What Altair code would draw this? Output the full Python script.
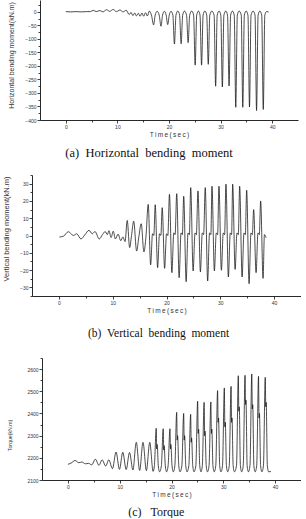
import altair as alt
import pandas as pd

# ---------------- data ----------------
X_DOMAIN = [-5, 45]
X_TICKS = [0, 5, 10, 15, 20, 25, 30, 35, 40]

# (a) Horizontal bending moment: (time s, kN.m)
HBM = [
    (0.0, 1), (1.0, 0), (2.0, 1), (3.0, 0), (4.0, 1), (4.8, 1),
    (5.3, 6), (5.9, 1), (6.6, 5), (7.2, 0), (7.9, 8), (8.5, 2), (9.2, 9), (9.8, 1),
    (10.5, 7), (11.1, 0), (11.7, 6),
    (12.3, -10), (12.65, -2), (13.0, -14), (13.35, -4), (13.7, -15), (14.05, -5),
    (14.4, -16), (14.75, -4), (15.1, -16), (15.45, -3), (15.8, -15), (16.2, 3), (16.6, -12),
    (17.02, -48), (17.32, -12), (17.7, 2), (18.1, -12),
    (18.45, -53), (18.75, -12), (19.1, 2), (19.45, -12),
    (19.75, -47), (20.05, -12), (20.4, 2), (20.75, -12),
    (21.05, -119), (21.35, -12), (21.7, 3), (22.05, -12),
    (22.35, -118), (22.65, -12), (23.0, 3), (23.4, -12),
    (23.71, -114), (24.01, -12), (24.4, 3), (24.77, -12),
    (25.07, -197), (25.37, -12), (25.7, 3), (26.01, -12),
    (26.31, -197), (26.61, -12), (26.95, 3), (27.31, -12),
    (27.61, -194), (27.91, -12), (28.3, 3), (28.74, -12),
    (29.04, -275), (29.34, -12), (29.7, 3), (30.04, -12),
    (30.34, -278), (30.64, -12), (31.0, 3), (31.34, -12),
    (31.64, -274), (31.94, -12), (32.3, 3), (32.64, -12),
    (32.94, -353), (33.24, -12), (33.6, 3), (34.0, -12),
    (34.30, -353), (34.6, -12), (34.95, 3), (35.3, -12),
    (35.60, -352), (35.9, -12), (36.3, 3), (36.67, -12),
    (36.97, -365), (37.27, -12), (37.6, 3), (37.97, -12),
    (38.27, -361), (38.57, -12), (38.9, 1), (39.3, 0),
]

# (b) Vertical bending moment: (time s, kN.m)
VBM = [
    (0.1, -0.9), (0.9, -0.3), (1.75, 2.2), (2.7, 0), (3.3, 1), (4.1, -2), (4.8, 0.3),
    (5.6, 3), (6.2, 1), (6.7, 2.3), (7.5, -2), (8.1, 0.5), (8.6, 2.3), (9.0, 0.5),
    (9.3, 2.8), (9.7, -1.2), (10.1, 2.5), (10.5, -2), (11.0, 0.8), (11.5, -3),
    (11.9, -0.8), (12.3, -3.5),
    (12.7, 8.7), (13.15, -7), (13.5, 0), (13.9, 8.3), (14.45, -9), (14.85, -1),
    (15.3, 6.8), (15.8, -9.5), (16.2, 0),
    (16.6, 18.0), (17.05, -17.0), (17.4, 1), (17.65, 0),
    (17.9, 17.8), (18.35, -18.6), (18.7, 1), (18.95, 0),
    (19.2, 16.1), (19.65, -19.0), (20.0, 1), (20.25, 0),
    (20.55, 23.8), (21.0, -21.5), (21.35, 1.5), (21.6, 0.5),
    (21.9, 24.2), (22.35, -24.4), (22.7, 1.5), (22.95, 0.5),
    (23.2, 22.7), (23.65, -26.7), (24.0, 1.5), (24.25, 0.5),
    (24.5, 27.7), (24.95, -20.5), (25.3, 1.5), (25.55, 0.5),
    (25.85, 25.8), (26.3, -21.1), (26.65, 1.5), (26.9, 0.5),
    (27.2, 27.7), (27.65, -26.3), (28.0, 1.5), (28.25, 0.5),
    (28.45, 28.5), (28.9, -20.5), (29.25, 1.5), (29.5, 0.5),
    (29.75, 28.5), (30.2, -20.1), (30.55, 1.5), (30.8, 0.5),
    (31.05, 29.7), (31.5, -24.0), (31.85, 1.5), (32.1, 0.5),
    (32.3, 29.7), (32.75, -19.6), (33.1, 1.5), (33.35, 0.5),
    (33.6, 28.5), (34.05, -24.0), (34.4, 1.5), (34.65, 0.5),
    (34.9, 26.2), (35.35, -27.9), (35.7, 1.5), (35.95, 0.5),
    (36.2, 15.0), (36.65, -21.5), (37.0, 1.5), (37.25, 0.5),
    (37.5, 20.0), (37.95, -24.8), (38.2, 0.5), (38.5, -1.3),
]

# (c) Torque: (time s, kN.m)
TQ = [
    (0.0, 2171), (0.6, 2176), (1.4, 2188), (2.1, 2178), (2.7, 2181), (3.4, 2173),
    (4.0, 2175), (4.6, 2168),
    (5.3, 2194), (6.0, 2166), (6.6, 2191), (7.3, 2163), (7.9, 2191), (8.6, 2151),
    (9.3, 2226), (9.95, 2148), (10.6, 2225), (11.25, 2147), (11.9, 2224), (12.55, 2145),
    (13.2, 2270), (13.85, 2143), (14.5, 2270), (15.15, 2142), (15.8, 2270), (16.45, 2139),
    (16.7, 2165), (17.05, 2333), (17.15, 2240), (17.23, 2260), (17.45, 2165), (17.7, 2137),
    (18.05, 2165), (18.4, 2331), (18.5, 2235), (18.58, 2255), (18.8, 2165), (19.05, 2137),
    (19.35, 2165), (19.7, 2331), (19.8, 2240), (19.88, 2260), (20.1, 2165), (20.35, 2137),
    (20.65, 2165), (21.0, 2405), (21.1, 2280), (21.18, 2300), (21.4, 2165), (21.65, 2137),
    (22.0, 2165), (22.35, 2400), (22.45, 2280), (22.53, 2300), (22.75, 2165), (23.0, 2137),
    (23.35, 2165), (23.7, 2396), (23.8, 2270), (23.88, 2290), (24.1, 2165), (24.35, 2137),
    (24.7, 2165), (25.05, 2455), (25.15, 2310), (25.23, 2330), (25.45, 2165), (25.7, 2137),
    (25.95, 2165), (26.3, 2450), (26.4, 2300), (26.48, 2320), (26.7, 2165), (26.95, 2137),
    (27.25, 2165), (27.6, 2452), (27.7, 2310), (27.78, 2330), (28.0, 2165), (28.25, 2137),
    (28.55, 2165), (28.9, 2503), (29.0, 2360), (29.08, 2380), (29.3, 2165), (29.55, 2137),
    (29.85, 2165), (30.2, 2515), (30.3, 2340), (30.38, 2360), (30.6, 2165), (30.85, 2137),
    (31.15, 2165), (31.5, 2522), (31.6, 2360), (31.68, 2380), (31.9, 2165), (32.15, 2137),
    (32.55, 2165), (32.9, 2570), (33.0, 2410), (33.08, 2430), (33.3, 2165), (33.55, 2137),
    (33.85, 2165), (34.2, 2572), (34.3, 2440), (34.38, 2460), (34.6, 2165), (34.85, 2137),
    (35.15, 2165), (35.5, 2578), (35.6, 2420), (35.68, 2440), (35.9, 2165), (36.15, 2137),
    (36.45, 2165), (36.8, 2567), (36.9, 2380), (36.98, 2400), (37.2, 2165), (37.45, 2137),
    (37.75, 2165), (38.1, 2563), (38.2, 2430), (38.28, 2450), (38.5, 2165), (38.75, 2137),
    (39.2, 2138),
]

A_TICKS = list(range(-400, 26, 25))
B_TICKS = list(range(-35, 36, 5))
C_TICKS = list(range(2100, 2651, 50))

NB = "\u00a0"
TS = "\u2009"
X_TITLE = TS.join("Time(sec)")


def to_df(pairs):
    return pd.DataFrame({"t": [p[0] for p in pairs], "v": [p[1] for p in pairs]})


def panel(pairs, ydom, yticks, ymajor, ytitle, ytsize, ytpad, yty,
          caption, capsize, capdx, capoff, w, h):
    xaxis = alt.Axis(
        values=X_TICKS, format="d",
        labelExpr="datum.value % 10 === 0 ? datum.label : ''",
        tickSize={"condition": {"test": "datum.value % 10 === 0", "value": 3}, "value": 2},
        labelPadding=1, labelOverlap=False, labelFlush=False,
        title=X_TITLE, titleFontSize=6.5, titlePadding=2,
    )
    yaxis = alt.Axis(
        values=yticks, format="d",
        labelExpr=f"datum.value % {ymajor} === 0 ? datum.label : ''",
        tickSize={"condition": {"test": f"datum.value % {ymajor} === 0", "value": 3}, "value": 2},
        labelPadding=1, labelOverlap=False, labelFlush=False,
        title=ytitle, titleFontSize=ytsize, titlePadding=ytpad, titleY=yty,
    )
    return alt.Chart(to_df(pairs)).mark_line(
        interpolate="monotone", color="#111", strokeWidth=0.75, clip=True
    ).encode(
        x=alt.X("t:Q", scale=alt.Scale(domain=X_DOMAIN, nice=False, zero=False), axis=xaxis),
        y=alt.Y("v:Q", scale=alt.Scale(domain=ydom, nice=False, zero=False), axis=yaxis),
    ).properties(
        width=w, height=h,
        title=alt.TitleParams(caption, orient="bottom", anchor="middle", frame="group",
                              fontSize=capsize, dx=capdx, offset=capoff,
                              font="Liberation Serif", fontWeight="normal", color="#111"),
    )


def spacer():
    return alt.Chart(pd.DataFrame({"s": [0]})).mark_point(
        size=0, strokeWidth=0, opacity=0
    ).properties(width=1, height=1)


pa = panel(HBM, [-400, 44], A_TICKS, 50, "Horizontal bending moment(kN.m)", 7, 10.7, 55,
           f"(a){NB}{NB}Horizontal{NB}{NB}bending{NB}{NB}moment", 12.5, -20, 9, 258, 120)
pb = panel(VBM, [-35, 35], B_TICKS, 10, "Vertical bending moment(kN.m)", 7.5, 9.5, 53.5,
           f"(b){NB}{NB}Vertical{NB}{NB}bending{NB}{NB}moment", 11.5, -8, 14.5, 269, 121)
pc = panel(TQ, [2100, 2650], C_TICKS, 100, "Torque(kN.m)", 5.2, 14, 77,
           f"(c){NB}{NB}{NB}Torque", 12, -15.2, 9, 259, 122)

row_a = alt.HConcatChart(hconcat=[spacer(), pa], spacing=5)
row_b = alt.HConcatChart(hconcat=[spacer(), pb], spacing=0)
row_c = alt.HConcatChart(hconcat=[spacer(), pc], spacing=5)

lower = alt.VConcatChart(vconcat=[row_b, row_c], spacing=16)

chart = alt.VConcatChart(
    vconcat=[row_a, lower], spacing=14,
).properties(
    padding={"left": 1, "top": 0, "right": 0, "bottom": 0},
    background="white",
).configure_view(strokeWidth=0).configure_axis(
    domainColor="#111", domainWidth=0.9, tickColor="#111", tickWidth=0.8,
    labelFont="Liberation Sans", labelFontSize=5, labelColor="#333",
    titleFont="Liberation Sans", titleFontWeight="normal", titleColor="#333", grid=False,
)

chart.save("out.html", embed_options={"renderer": "svg", "actions": False})
